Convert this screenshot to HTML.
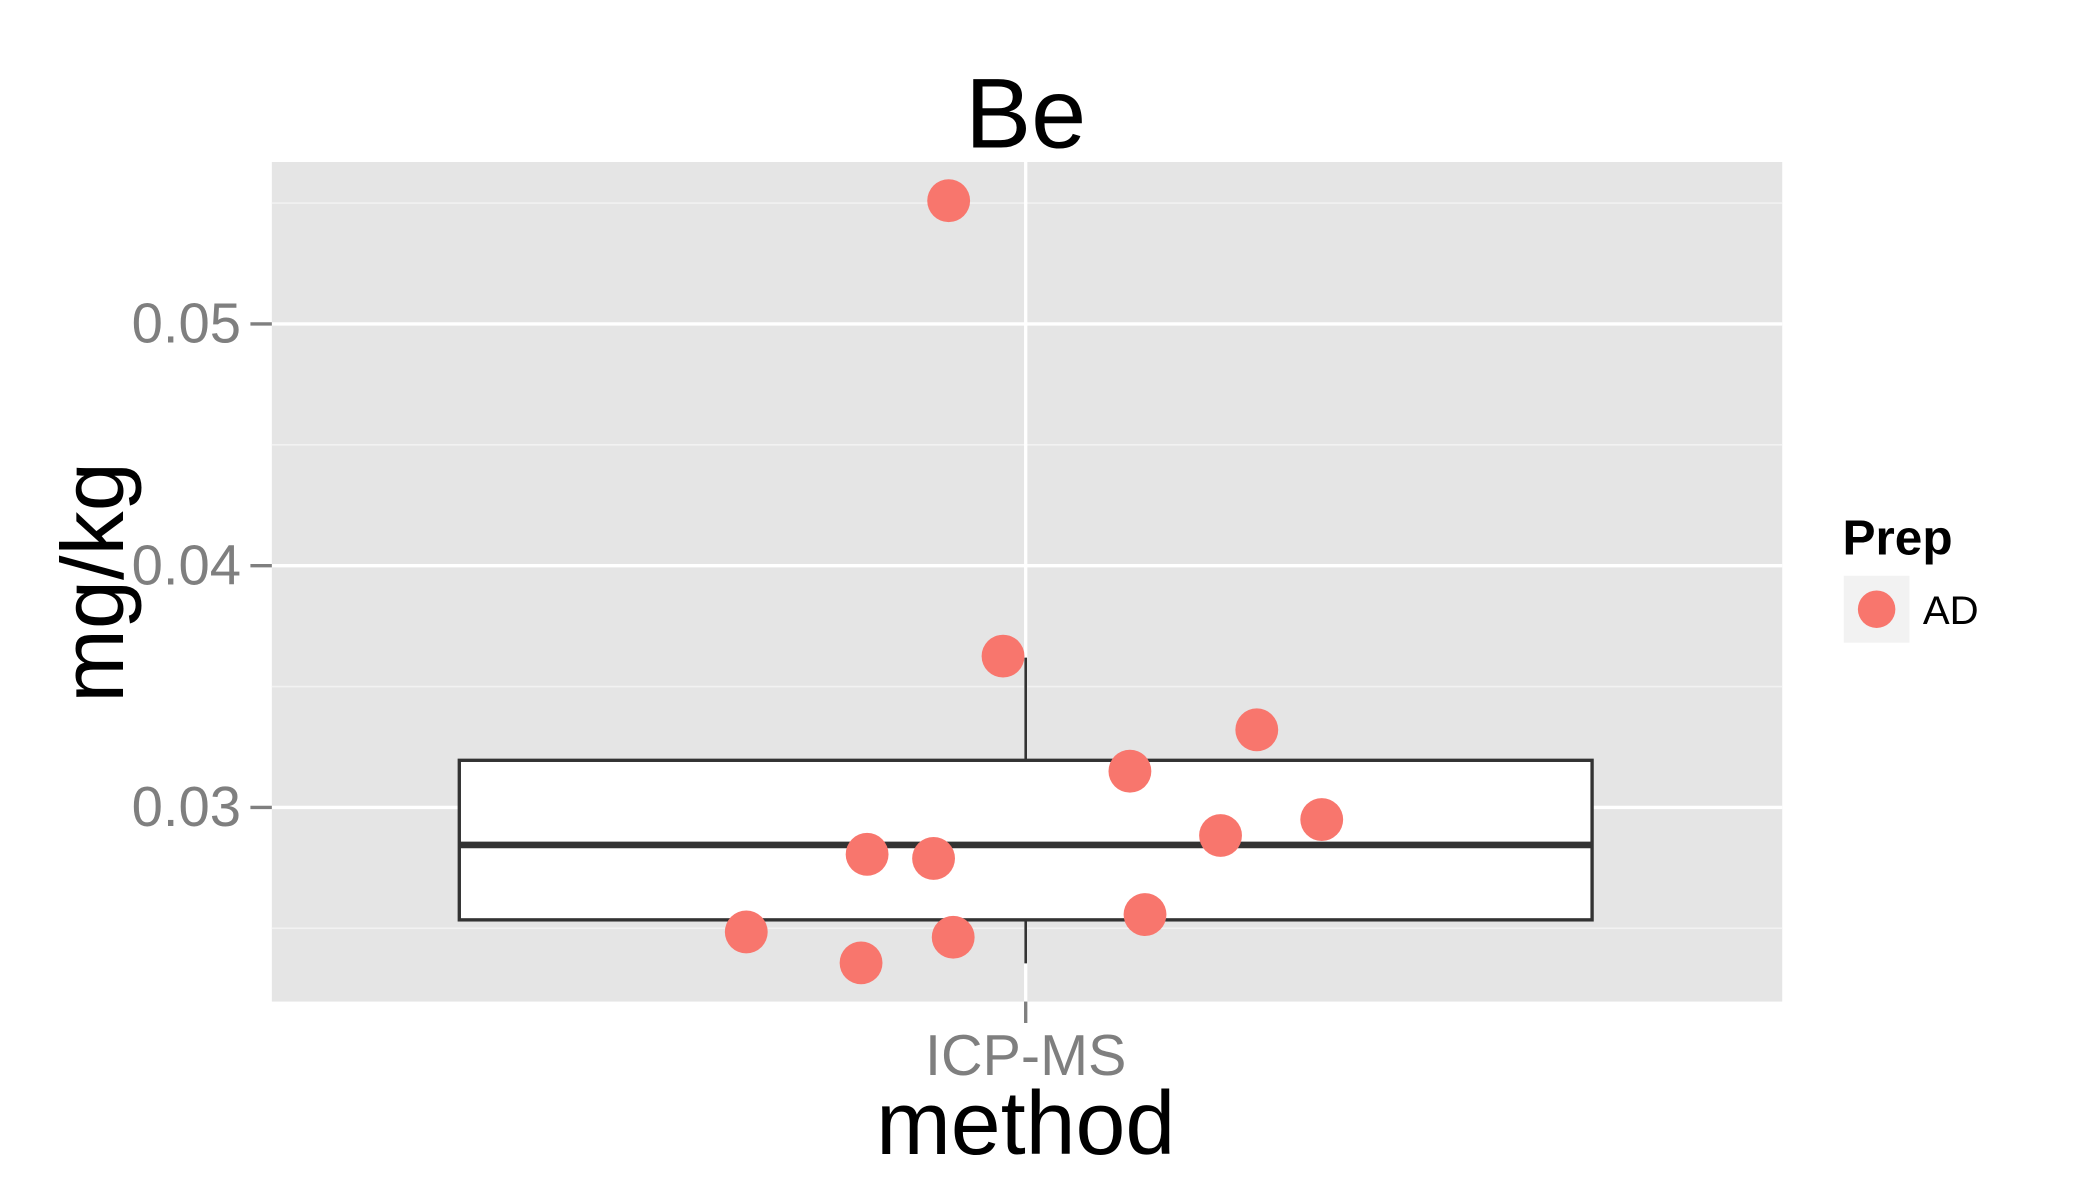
<!DOCTYPE html>
<html><head><meta charset="utf-8"><style>html,body{margin:0;padding:0;background:#fff}svg{display:block}</style></head>
<body>
<svg id="chart" width="2100" height="1200" viewBox="0 0 1568.3 896.2" xmlns="http://www.w3.org/2000/svg" font-family="'Liberation Sans', Arial, sans-serif">
<rect x="203" y="121" width="1128" height="627" fill="#e5e5e5"/>
<g id="grid"></g>
<g id="box"></g>
<g id="pts"></g>
<g id="axes"></g>
<text x="766" y="110" font-size="74" text-anchor="middle">Be</text>
<text x="766" y="862" font-size="67" text-anchor="middle">method</text>
<text transform="translate(92,435) rotate(-90)" font-size="66" text-anchor="middle">mg/kg</text>
<text x="1376" y="414" font-size="37" font-weight="bold">Prep</text>
<rect x="1377" y="430" width="49" height="50" fill="#f2f2f2"/>
<circle cx="1401.5" cy="455" r="14" fill="#f8766d"/>
<text x="1436" y="466" font-size="30">AD</text>
</svg>
<script>
const categories = ["ICP-MS"];
const pointValues = [0.0551,0.03626,0.03321,0.0315,0.0295,0.02884,0.02806,0.02789,0.02557,0.02485,0.02463,0.02357];
const pointJitter = [-0.051,-0.015,0.153,0.069,0.196,0.129,-0.105,-0.061,0.079,-0.185,-0.048,-0.109];
const boxStats = [0.02355,0.02535,0.02845,0.03195,0.0362];
const yTicks = [0.03,0.04,0.05];
const yTickLabels = ["0.03","0.04","0.05"];
const yMinor = [0.025,0.035,0.045,0.055];

const NS="http://www.w3.org/2000/svg";
const px0=203,px1=1331,py0=121,py1=748;
const yMin=0.02197,yMax=0.0567;
const y=v=>py1-(v-yMin)/(yMax-yMin)*(py1-py0);
const unit=1128;
const x=(i,off)=>766+off*unit;
function mk(tag,attrs,parent){const e=document.createElementNS(NS,tag);for(const k in attrs)e.setAttribute(k,attrs[k]);document.getElementById(parent).appendChild(e);return e;}
yMinor.forEach(v=>{const l=mk('line',{x1:px0,x2:px1,y1:y(v),y2:y(v),stroke:'#f2f2f2','stroke-width':1.2},'grid');

});
yTicks.forEach((v,i)=>{const l=mk('line',{x1:px0,x2:px1,y1:y(v),y2:y(v),stroke:'#fff','stroke-width':2.5},'grid');


const t=mk('line',{x1:187,x2:203,y1:y(v),y2:y(v),stroke:'#7f7f7f','stroke-width':2.5},'axes');


const tx=mk('text',{x:180,y:y(v)+14,'font-size':42,fill:'#7f7f7f','text-anchor':'end'},'axes');tx.textContent=yTickLabels[i];

});
categories.forEach((c,i)=>{const cx=x(i,0);
const g=mk('line',{x1:cx,x2:cx,y1:py0,y2:py1,stroke:'#fff','stroke-width':2.5},'grid');


const t=mk('line',{x1:cx,x2:cx,y1:py1,y2:py1+16,stroke:'#7f7f7f','stroke-width':2.5},'axes');


const tx=mk('text',{x:cx,y:803,'font-size':43,fill:'#7f7f7f','text-anchor':'middle'},'axes');tx.textContent=c;


const [lo,q1,med,q3,hi]=boxStats;const hw=0.375*unit;
const w1=mk('line',{x1:cx,x2:cx,y1:y(hi),y2:y(q3),stroke:'#333','stroke-width':2},'box');


const w2=mk('line',{x1:cx,x2:cx,y1:y(q1),y2:y(lo),stroke:'#333','stroke-width':2},'box');


const r=mk('rect',{x:cx-hw,y:y(q3),width:2*hw,height:y(q1)-y(q3),fill:'#fff',stroke:'#333','stroke-width':2.5},'box');


const m=mk('line',{x1:cx-hw,x2:cx+hw,y1:y(med),y2:y(med),stroke:'#333','stroke-width':5},'box');

});
pointValues.forEach((v,i)=>{const c=mk('circle',{cx:x(0,pointJitter[i]),cy:y(v),r:16,fill:'#f8766d'},'pts');

});
</script>
</body></html>
